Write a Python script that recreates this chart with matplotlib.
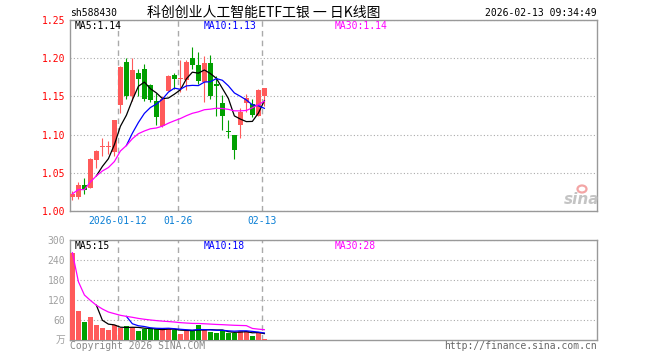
import numpy as np
import pandas as pd
import matplotlib
matplotlib.use('Agg')
import matplotlib.pyplot as plt
from matplotlib.patches import Ellipse

W, H = 660, 360

# дневные свечи (33 торговых дня)
opens = [1.018, 1.018, 1.0338, 1.0299, 1.0662, 1.0838, 1.0838, 1.0767, 1.1386, 1.1951,
         1.1504, 1.1812, 1.1865, 1.1645, 1.1438, 1.1109, 1.157, 1.1776, 1.1733, 1.171,
         1.2009, 1.1908, 1.1684, 1.1934, 1.1658, 1.1408, 1.1045, 1.100, 1.1132, 1.1408,
         1.1401, 1.125, 1.150]
highs = [1.026, 1.0378, 1.043, 1.0695, 1.0793, 1.0951, 1.0912, 1.1197, 1.1895, 1.2009,
         1.2009, 1.1855, 1.1921, 1.1667, 1.1549, 1.1504, 1.1776, 1.1812, 1.1974, 1.1974,
         1.2145, 1.2079, 1.2026, 1.2046, 1.1767, 1.1513, 1.1197, 1.100, 1.1351, 1.1526,
         1.146, 1.1601, 1.161]
lows = [1.0145, 1.0162, 1.0224, 1.0295, 1.0557, 1.0718, 1.074, 1.0715, 1.1286, 1.146,
        1.1438, 1.1504, 1.1438, 1.1421, 1.1132, 1.1105, 1.157, 1.160, 1.1553, 1.158,
        1.1855, 1.1658, 1.1421, 1.146, 1.125, 1.1066, 1.0957, 1.0678, 1.0957, 1.1293,
        1.1233, 1.1237, 1.1372]
closes = [1.0224, 1.0338, 1.0276, 1.0684, 1.078, 1.0840, 1.0840, 1.1197, 1.1886, 1.1504,
          1.1842, 1.1733, 1.1471, 1.1451, 1.1233, 1.147, 1.1767, 1.1724, 1.1736, 1.1951,
          1.1908, 1.1701, 1.1934, 1.150, 1.1640, 1.125, 1.1040, 1.0793, 1.1293, 1.1474,
          1.1263, 1.1583, 1.1605]
# объём,万
volumes = [262, 88, 55, 70, 46, 37, 30, 44, 35, 42, 40, 28, 32, 32, 32, 32, 36, 30, 18, 28,
           29, 45, 30, 24, 22, 29, 20, 20, 28, 28, 12, 24, 4]

price_ticks = [1.00, 1.05, 1.10, 1.15, 1.20, 1.25]
vol_ticks = [60, 120, 180, 240, 300]
date_idx = [8, 18, 32]
date_labels = ['2026-01-12', '01-26', '02-13']

price_ma_labels = ['MA5:1.14', 'MA10:1.13', 'MA30:1.14']
vol_ma_labels = ['MA5:15', 'MA10:18', 'MA30:28']
ma_colors = ['black', '#0000ff', '#ff00ff']

RED = '#ff5a5a'
GREEN = '#00a000'
GRID = '#aaaaaa'
BORDER = '#999999'
MONO = 'DejaVu Sans Mono'
CJK = ['Noto Sans CJK SC', 'DejaVu Sans']


def px(x, y):
    return x / W, 1 - y / H


def frame(ax):
    ax.set_xlim(-0.4, 87.45)
    for s in ax.spines.values():
        s.set_color(BORDER)
        s.set_linewidth(1)
    ax.grid(axis='y', color=GRID, lw=0.8, ls=(0, (1, 2)))
    ax.set_axisbelow(True)
    for i in date_idx:
        ax.axvline(i - 0.4, color=GRID, lw=1, ls=(0, (4, 3)), zorder=0.5)
    ax.tick_params(length=0, pad=3.5, labelsize=7)


def draw_ma(ax, values, labels, y_text):
    s = pd.Series(values, dtype=float)
    mas = [s.rolling(5).mean(), s.rolling(10).mean(), s.rolling(30, min_periods=1).mean()]
    for ma, col in zip(mas, ma_colors):
        ax.plot(np.arange(len(values)), ma, color=col, lw=0.9, zorder=4)
    for lab, col, xp in zip(labels, ma_colors, [75, 204, 335]):
        fig.text(*px(xp, y_text), lab, color=col, family=MONO, fontsize=7, va='center')


fig = plt.figure(figsize=(W / 100, H / 100), dpi=100)

x = np.arange(len(closes))
o = np.array(opens)
c = np.array(closes)
colors = np.where(c >= o, RED, GREEN)

# свечной график
ax = fig.add_axes([70 / W, (H - 211) / H, 527 / W, 191 / H])
frame(ax)
ax.set_ylim(1.00, 1.25)
ax.vlines(x, lows, highs, colors=colors, lw=0.8, zorder=2)
ax.bar(x, np.maximum(np.abs(c - o), 0.0012), bottom=np.minimum(o, c), width=0.83,
       color=colors, lw=0, zorder=3)
ax.set_yticks(price_ticks, [f'{t:.2f}' for t in price_ticks])
for lab in ax.get_yticklabels():
    lab.set_color('red')
    lab.set_family(MONO)
ax.set_xticks([i - 0.4 for i in date_idx], date_labels)
for lab in ax.get_xticklabels():
    lab.set_color('#0a7fd5')
    lab.set_family(MONO)
draw_ma(ax, closes, price_ma_labels, 26)

# логотип sina
fig.text(*px(582, 199), 'sina', fontsize=11, style='italic', weight='bold',
         color='#c4c4c4', ha='center', va='center')
fig.patches.append(Ellipse(px(582, 189), 9 / W, 7 / H, transform=fig.transFigure,
                           facecolor='none', edgecolor='#f3a5a5', lw=1.6))

# объём
axv = fig.add_axes([70 / W, 20 / H, 527 / W, 100 / H])
frame(axv)
axv.set_ylim(0, 300)
axv.bar(x, volumes, width=0.83, color=colors, lw=0, zorder=3)
axv.set_yticks(vol_ticks, [str(t) for t in vol_ticks])
for lab in axv.get_yticklabels():
    lab.set_color('#a0a0a0')
    lab.set_family(MONO)
axv.set_xticks([])
draw_ma(axv, volumes, vol_ma_labels, 246)
fig.text(*px(65, 340), '万', family=CJK, fontsize=7, color='#a0a0a0', ha='right', va='center')

# шапка и подписи
fig.text(*px(70, 13), 'sh588430', family=MONO, fontsize=7, va='center')
fig.text(*px(264, 12.5), '科创创业人工智能ETF工银 一 日K线图', family=CJK, fontsize=10,
         ha='center', va='center')
fig.text(*px(597, 13), '2026-02-13 09:34:49', family=MONO, fontsize=7, ha='right', va='center')
fig.text(*px(70, 346), 'Copyright 2026 SINA.COM', family=MONO, fontsize=7,
         color='#888888', va='center')
fig.text(*px(597, 346), 'http://finance.sina.com.cn', family=MONO, fontsize=7,
         color='#666666', ha='right', va='center')

fig.savefig('out.png', dpi=100)
